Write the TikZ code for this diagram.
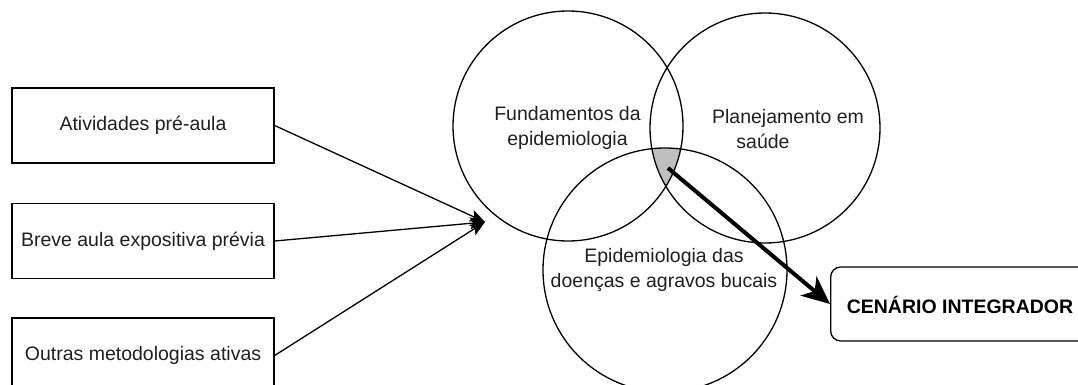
\documentclass[tikz,border=0pt]{standalone}
\usepackage{fontspec}
\setmainfont{Liberation Sans}
\usetikzlibrary{arrows.meta}
\begin{document}
\begin{tikzpicture}[x=1pt,y=-1pt,
  every node/.style={font=\fontsize{19.5}{25.5}\selectfont, text=black!88},
  boxnode/.style={draw=black, line width=1.3pt, minimum width=262pt, minimum height=75pt, inner sep=0pt},
  ring/.style={draw=black, line width=1.3pt},
  thinarrow/.style={line width=1.3pt, -{Stealth[length=15pt,width=12pt,inset=3pt]}},
  thickarrow/.style={line width=4pt, -{Stealth[length=28pt,width=25pt,inset=8pt]}},
  ringtext/.style={align=center, inner sep=0pt}]
\path[use as bounding box, clip] (0,0) rectangle (1078,385);
% circle centres
\coordinate (c1) at (568,126);
\coordinate (c2) at (765,128);
\coordinate (c3) at (665,270);
% triple intersection
\begin{scope}
  \clip (c1) circle (115);
  \clip (c2) circle (115);
  \fill[black!25] (c3) circle (122);
\end{scope}
\draw[ring] (c1) circle (115);
\draw[ring] (c2) circle (115);
\draw[ring] (c3) circle (122);
% circle labels
\node[ringtext] (fund) at (567.5,128) {Fundamentos da\\epidemiologia};
\node[ringtext] (plan) at (788,129) {Planejamento em\\saúde\hspace*{50pt}};
\node[ringtext] (epid) at (664,270) {Epidemiologia das\\doenças e agravos bucais};
% left boxes
\node[boxnode] (b1) at (143,125.5) {Atividades pré-aula};
\node[boxnode] (b2) at (143,241) {Breve aula expositiva prévia};
\node[boxnode] (b3) at (143,355.5) {Outras metodologias ativas};
% result box
\node[draw=black, line width=1.3pt, rounded corners=10pt, minimum width=260pt, minimum height=74pt,
      anchor=west, inner sep=0pt] (cen) at (830,304) {};
\node[font=\fontsize{19.5}{24}\selectfont\bfseries, text=black] (centxt) at (960,305) {CENÁRIO INTEGRADOR};
% arrows
\coordinate (tip) at (485,222);
\coordinate (start) at (668,168);
\draw[thinarrow] (b1.east) -- (tip);
\draw[thinarrow] (b2.east) -- (tip);
\draw[thinarrow] (b3.east) -- (tip);
\draw[thickarrow] (start) -- (cen.west);
\end{tikzpicture}
\end{document}
